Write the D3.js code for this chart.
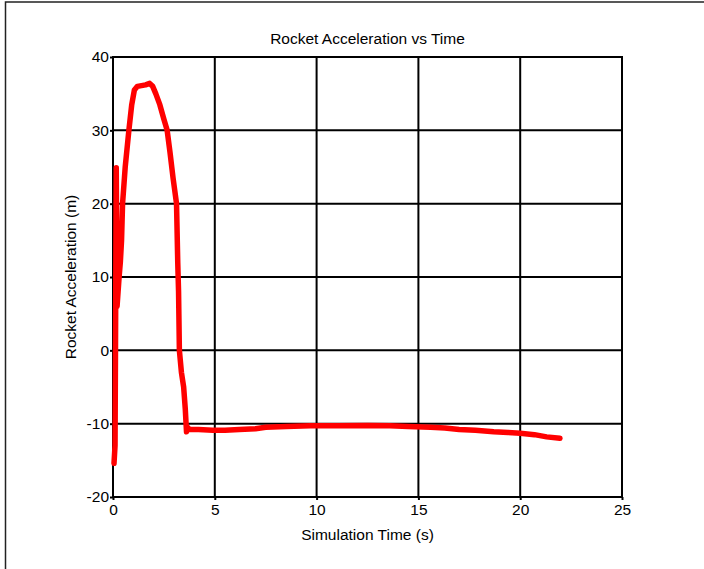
<!DOCTYPE html>
<html>
<head>
<meta charset="utf-8">
<script src="https://cdn.jsdelivr.net/npm/d3@7"></script>
<style>
  body { margin: 0; background: #fff; }
  text { font-family: "Liberation Sans", Arial, sans-serif; fill: #000; }
</style>
</head>
<body>
<div id="chart"></div>
<script>
// Rocket acceleration vs time
const timeValues = [0.05, 0.1, 0.13, 0.16, 0.2, 0.25, 0.3, 0.36, 0.42, 0.47, 0.6, 0.78, 0.92, 1.05, 1.2, 1.4, 1.6, 1.8, 1.95, 2.1,
  2.3, 2.5, 2.66, 2.8, 2.95, 3.12, 3.18, 3.22, 3.26, 3.36, 3.47, 3.55, 3.61, 3.67, 3.75, 4.2, 4.9, 5.5, 6.2, 7.0,
  7.5, 8.5, 9.7, 11, 12.5, 13.6, 14.5, 15.6, 16.3, 17.0, 17.8, 18.7, 19.4, 20.0, 20.7, 21.3, 21.95];
const accelValues = [-15.4, -13, 5, 24.9, 6, 8, 10, 12, 15, 20, 25, 30, 33.5, 35.5, 36, 36.1, 36.2, 36.4, 36, 35,
  33.5, 31.5, 30, 27, 23.5, 20, 12, 8, 0, -3, -5, -8, -11.1, -10.5, -10.8, -10.8, -10.9, -10.9, -10.8, -10.7,
  -10.5, -10.4, -10.3, -10.3, -10.25, -10.3, -10.4, -10.5, -10.6, -10.8, -10.9, -11.1, -11.2, -11.3, -11.5, -11.8, -12.0];
const xTicks = [0, 5, 10, 15, 20, 25];
const yTicks = [-20, -10, 0, 10, 20, 30, 40];

const data = timeValues.map((t, i) => ({ t: t, a: accelValues[i] }));

const svg = d3.select("#chart")
  .append("svg")
  .attr("width", 704)
  .attr("height", 569);

// outer frame (only top and left edges show)
svg.append("rect")
  .attr("x", 5.5).attr("y", 2)
  .attr("width", 800).attr("height", 700)
  .attr("fill", "none")
  .attr("stroke", "#222")
  .attr("stroke-width", 1.5);

const margin = { top: 57, right: 82, bottom: 72, left: 113 },
  width = 704 - margin.left - margin.right,
  height = 569 - margin.top - margin.bottom;

const g = svg.append("g")
  .attr("transform", `translate(${margin.left},${margin.top})`);

const xScale = d3.scaleLinear().domain([0, 25]).range([0, width]);
const yScale = d3.scaleLinear().domain([-20, 40]).range([height, 0]);

// grid
g.append("g")
  .selectAll("line")
  .data(xTicks)
  .join("line")
  .attr("x1", d => xScale(d)).attr("x2", d => xScale(d))
  .attr("y1", 0).attr("y2", height)
  .attr("stroke", "#000").attr("stroke-width", 2);

g.append("g")
  .selectAll("line")
  .data(yTicks)
  .join("line")
  .attr("x1", 0).attr("x2", width)
  .attr("y1", d => yScale(d)).attr("y2", d => yScale(d))
  .attr("stroke", "#000").attr("stroke-width", 2);

// axes (plain hyphen for negatives, like the original)
const fmt = d => String(d);
const xAxis = g.append("g")
  .attr("transform", `translate(0,${height})`)
  .call(d3.axisBottom(xScale).tickValues(xTicks).tickFormat(fmt).tickSize(3).tickSizeOuter(0));
const yAxis = g.append("g")
  .call(d3.axisLeft(yScale).tickValues(yTicks).tickFormat(fmt).tickSize(3).tickSizeOuter(0));

[xAxis, yAxis].forEach(ax => {
  ax.select(".domain").remove();
  ax.selectAll(".tick line").attr("stroke", "#000").attr("stroke-width", 2);
  ax.selectAll(".tick text")
    .style("font-family", "'Liberation Sans', Arial, sans-serif")
    .style("font-size", "15.5px")
    .attr("fill", "#000");
});
xAxis.selectAll(".tick text").attr("dy", "0.9em").attr("y", 4);
yAxis.selectAll(".tick text").attr("x", -4);

// frame of plot
g.append("rect")
  .attr("width", width).attr("height", height)
  .attr("fill", "none")
  .attr("stroke", "#000")
  .attr("stroke-width", 2);

// data line
const line = d3.line()
  .x(d => xScale(d.t))
  .y(d => yScale(d.a));

g.append("path")
  .datum(data)
  .attr("d", line)
  .attr("fill", "none")
  .attr("stroke", "#ff0000")
  .attr("stroke-width", 5.5)
  .attr("stroke-linejoin", "round")
  .attr("stroke-linecap", "round");

// title and labels
svg.append("text")
  .attr("x", margin.left + width / 2)
  .attr("y", 44)
  .attr("text-anchor", "middle")
  .style("font-size", "15.5px")
  .text("Rocket Acceleration vs Time");

svg.append("text")
  .attr("x", margin.left + width / 2)
  .attr("y", 540)
  .attr("text-anchor", "middle")
  .style("font-size", "15.5px")
  .text("Simulation Time (s)");

svg.append("text")
  .attr("transform", `translate(76,${margin.top + height / 2}) rotate(-90)`)
  .attr("text-anchor", "middle")
  .style("font-size", "15.5px")
  .text("Rocket Acceleration (m)");
</script>
</body>
</html>
